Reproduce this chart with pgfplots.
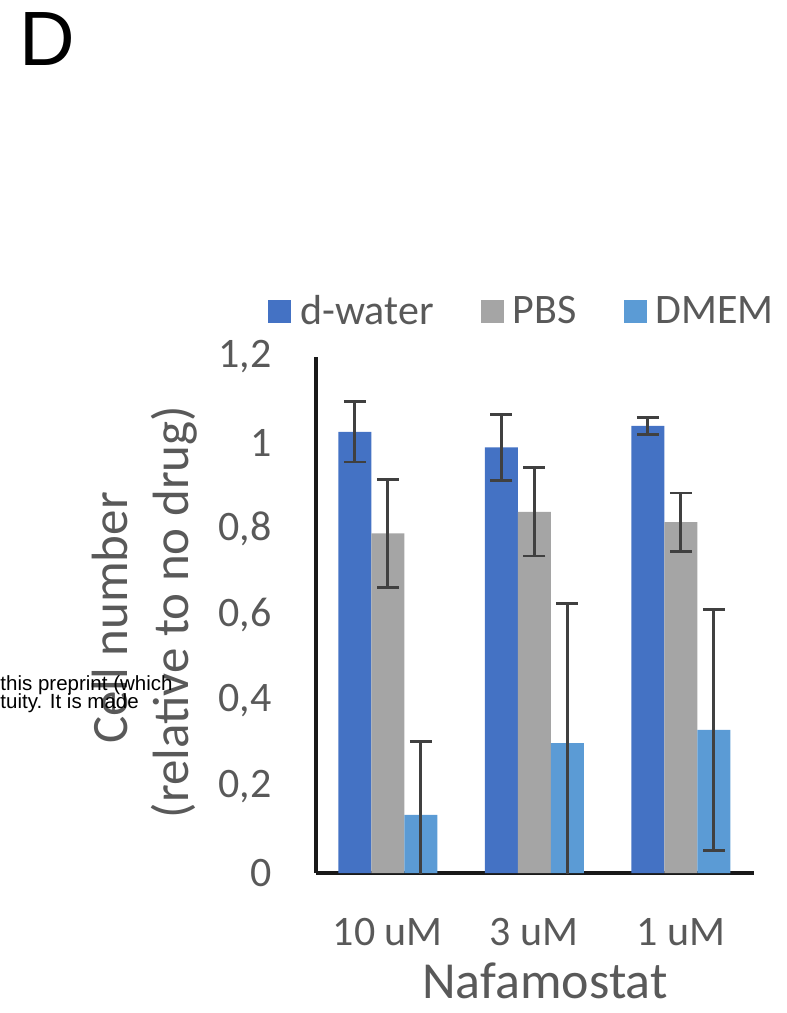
\documentclass[border=0pt]{standalone}
\usepackage{fontspec}
\setmainfont{Carlito}
\newfontfamily\arialfont{Liberation Sans}
\usepackage{pgfplots}
\usepackage{pgfplotstable}
\pgfplotsset{compat=1.18}

\definecolor{cwater}{HTML}{4472C4}
\definecolor{cpbs}{HTML}{A5A5A5}
\definecolor{cdmem}{HTML}{5B9BD5}
\definecolor{tgray}{HTML}{595959}
\definecolor{ebar}{HTML}{404040}

% cell number relative to no drug, mean and error
\pgfplotstableread{
x dw    dwe   pbs   pbse  dm    dme
0 1.026 0.070 0.790 0.126 0.135 0.170
1 0.990 0.077 0.840 0.103 0.302 0.324
2 1.040 0.020 0.816 0.068 0.333 0.280
}\cells

\pgfplotsset{sqleg/.style={legend image code/.code={\fill[##1] (0pt,-4.6pt) rectangle (9.2pt,4.6pt);}}}

\begin{document}
\begin{tikzpicture}
\path[use as bounding box] (0,0) rectangle (314.8pt,-405.2pt);
\begin{axis}[
    at={(126.4pt,-349.2pt)}, anchor=south west,
    scale only axis, width=175.2pt, height=206.4pt,
    ybar=0pt, bar width=13.2pt,
    xmin=-0.49, xmax=2.5, ymin=0, ymax=1.2,
    enlargelimits=false,
    axis lines*=left,
    axis line style={-, line width=1.3pt, black!90},
    xtick={0,1,2}, xticklabels={10 uM, 3 uM, 1 uM},
    ytick={0,0.2,0.4,0.6,0.8,1,1.2},
    yticklabels={0,{0,2},{0,4},{0,6},{0,8},1,{1,2}},
    major tick length=0pt, tick style={draw=none},
    ticklabel style={font=\fontsize{16.8pt}{20pt}\selectfont, text=tgray, inner sep=0pt},
    yticklabel style={anchor=east, xshift=-17.6pt},
    xticklabel style={anchor=north, yshift=-18pt},
    legend columns=3,
    legend style={draw=none, fill=none, inner sep=0pt,
        at={(-0.1096,1.088)}, anchor=west,
        font=\fontsize{16.8pt}{20pt}\selectfont, text=tgray,
        nodes={inner sep=0pt},
        /tikz/every odd column/.append style={column sep=3.6pt},
        /tikz/every even column/.append style={column sep=18.8pt}},
    error bars/y dir=both, error bars/y explicit,
    error bars/error bar style={line width=1.1pt, ebar},
    error bars/error mark options={rotate=90, mark size=4.4pt, line width=1.1pt, ebar},
]
\addplot[fill=cwater, draw=none, sqleg] table[x=x, y=dw, y error=dwe] {\cells};
\addlegendentry{d-water}
\addplot[fill=cpbs, draw=none, sqleg] table[x=x, y=pbs, y error=pbse] {\cells};
\addlegendentry{PBS}
\addplot[fill=cdmem, draw=none, sqleg] table[x=x, y=dm, y error=dme] {\cells};
\addlegendentry{DMEM}
\end{axis}

\node[font=\arialfont\fontsize{30.8pt}{36pt}\selectfont, anchor=base west, inner sep=0pt] at (7.6pt,-26pt) {D};

\node[rotate=90, anchor=base, inner sep=0pt, text=tgray, font=\fontsize{20.4pt}{24pt}\selectfont] at (50.8pt,-247.2pt) {Cell number};
\node[rotate=90, anchor=base, inner sep=0pt, text=tgray, font=\fontsize{20.4pt}{24pt}\selectfont] at (75.2pt,-244.8pt) {(relative to no drug)};
\node[anchor=base, inner sep=0pt, text=tgray, font=\fontsize{20.8pt}{24pt}\selectfont] at (218pt,-399.2pt) {Nafamostat};

\node[font=\arialfont\fontsize{8.2pt}{9pt}\selectfont, anchor=base west, inner sep=0pt] at (0pt,-276pt) {this preprint (which};
\node[font=\arialfont\fontsize{8.2pt}{9pt}\selectfont, anchor=base west, inner sep=0pt] at (0pt,-283.2pt) {tuity. It is made};
\end{tikzpicture}
\end{document}
